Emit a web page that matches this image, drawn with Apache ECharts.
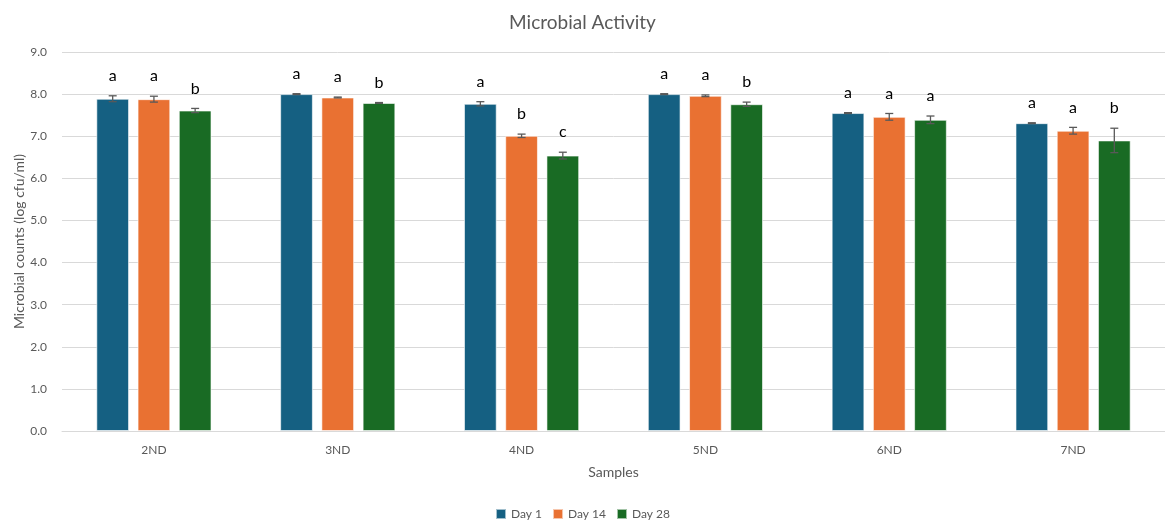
<!DOCTYPE html>
<html>
<head>
<meta charset="utf-8">
<script src="https://cdn.jsdelivr.net/npm/echarts@6/dist/echarts.min.js"></script>
<style>
  html, body { margin: 0; padding: 0; background: #fff; }
  #chart { width: 1165px; height: 522px; }
</style>
</head>
<body>
<div id="chart"></div>
<script>
// Sample groups and mean microbial counts (log cfu/ml) per storage day
const categories = ['2ND', '3ND', '4ND', '5ND', '6ND', '7ND'];
const seriesNames = ['Day 1', 'Day 14', 'Day 28'];
const day1 = [7.89, 8.00, 7.77, 8.00, 7.55, 7.31];
const day14 = [7.88, 7.92, 7.01, 7.96, 7.46, 7.13];
const day28 = [7.61, 7.79, 6.54, 7.76, 7.39, 6.90];
// Standard deviations
const day1Err = [0.07, 0.01, 0.05, 0.01, 0.01, 0.01];
const day14Err = [0.07, 0.01, 0.04, 0.02, 0.08, 0.08];
const day28Err = [0.05, 0.01, 0.08, 0.05, 0.09, 0.29];
// Significance letters
const day1Letters = ['a', 'a', 'a', 'a', 'a', 'a'];
const day14Letters = ['a', 'a', 'b', 'a', 'a', 'a'];
const day28Letters = ['b', 'b', 'c', 'b', 'a', 'b'];
const yTicks = [0, 9, 1];

const values = [day1, day14, day28];
const errors = [day1Err, day14Err, day28Err];
const letters = [day1Letters, day14Letters, day28Letters];
const colors = ['#156082', '#E97132', '#196B24'];
const FONT = 'Lato, "Open Sans", sans-serif';
const BAR_FRAC = 0.178;  // bar width as share of category band
const GAP_FRAC = 0.26;   // gap between bars as share of bar width

function errorSeries(idx) {
  const data = categories.map((c, i) => [i, values[idx][i], errors[idx][i], letters[idx][i]]);
  return {
    type: 'custom',
    name: seriesNames[idx] + ' error',
    data: data,
    z: 10,
    silent: true,
    encode: { x: 0, y: 1 },
    renderItem: function (params, api) {
      const x = api.value(0);
      const v = api.value(1);
      const e = api.value(2);
      const band = api.size([1, 0])[0];
      const bw = band * BAR_FRAC;
      const offset = (idx - 1) * bw * (1 + GAP_FRAC);
      const hi = api.coord([x, v + e]);
      const lo = api.coord([x, v - e]);
      const cx = hi[0] + offset;
      const cap = 4;
      const stroke = { stroke: '#595959', lineWidth: 1.3 };
      return {
        type: 'group',
        children: [
          { type: 'line', shape: { x1: cx, y1: hi[1], x2: cx, y2: lo[1] }, style: stroke },
          { type: 'line', shape: { x1: cx - cap, y1: hi[1], x2: cx + cap, y2: hi[1] }, style: stroke },
          { type: 'line', shape: { x1: cx - cap, y1: lo[1], x2: cx + cap, y2: lo[1] }, style: stroke },
          {
            type: 'text',
            style: {
              x: cx, y: hi[1] - 12,
              text: api.value(3),
              align: 'center', verticalAlign: 'bottom',
              fontSize: 16, fontFamily: FONT, fill: '#000'
            }
          }
        ]
      };
    }
  };
}

const barSeries = seriesNames.map((name, idx) => ({
  type: 'bar',
  name: name,
  data: values[idx],
  barWidth: (BAR_FRAC * 100) + '%',
  barGap: (GAP_FRAC * 100) + '%',
  itemStyle: { color: colors[idx], borderColor: 'rgba(255,255,255,0.6)', borderWidth: 1 }
}));

const chart = echarts.init(document.getElementById('chart'), null, { renderer: 'canvas' });
chart.setOption({
  animation: false,
  backgroundColor: '#fff',
  title: {
    text: 'Microbial Activity',
    left: 'center', top: 8,
    textStyle: { fontFamily: FONT, fontSize: 19, fontWeight: 'normal', color: '#595959' }
  },
  legend: {
    data: seriesNames,
    bottom: -3, left: 'center',
    itemWidth: 10, itemHeight: 10, itemGap: 10,
    icon: 'rect',
    textStyle: { fontFamily: FONT, fontSize: 12, color: '#595959' }
  },
  grid: { left: 62, right: 0, top: 52, bottom: 91, containLabel: false, outerBoundsMode: 'none' },
  xAxis: {
    type: 'category',
    data: categories,
    name: 'Samples',
    nameLocation: 'middle',
    nameGap: 34,
    nameTextStyle: { fontFamily: FONT, fontSize: 14, color: '#595959' },
    axisLine: { lineStyle: { color: '#d9d9d9' } },
    axisTick: { show: false },
    axisLabel: { fontFamily: FONT, fontSize: 12, color: '#595959', margin: 13 }
  },
  yAxis: {
    type: 'value',
    min: yTicks[0], max: yTicks[1], interval: yTicks[2],
    name: 'Microbial counts (log cfu/ml)',
    nameLocation: 'middle',
    nameGap: 36,
    nameMoveOverlap: false,
    nameTextStyle: { fontFamily: FONT, fontSize: 14, color: '#595959' },
    axisLine: { show: false },
    axisTick: { show: false },
    splitLine: { lineStyle: { color: '#d9d9d9' } },
    axisLabel: {
      fontFamily: FONT, fontSize: 12, color: '#595959', margin: 15,
      formatter: v => v.toFixed(1)
    }
  },
  series: barSeries.concat([errorSeries(0), errorSeries(1), errorSeries(2)])
});
</script>
</body>
</html>
